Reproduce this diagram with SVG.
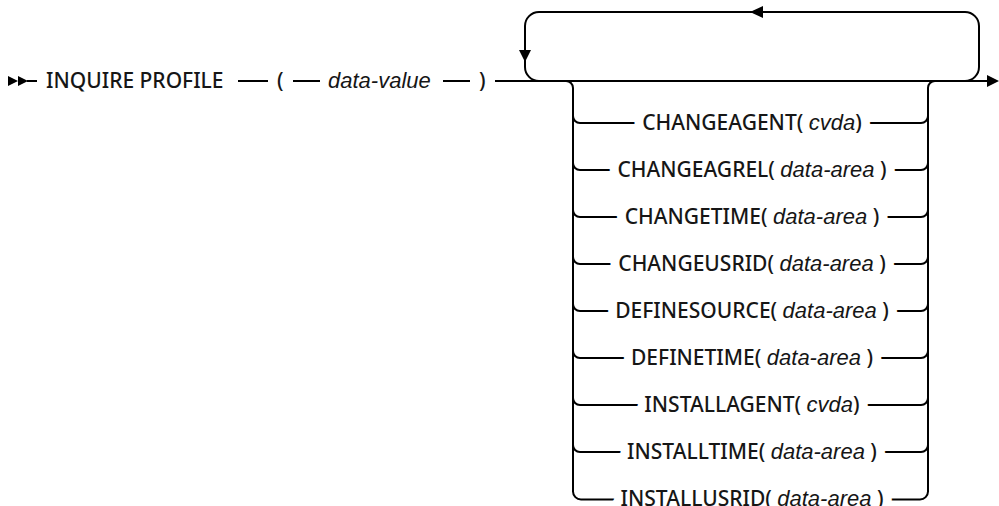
<svg xmlns="http://www.w3.org/2000/svg" width="999" height="506" viewBox="0 0 999 506">
<style>
.ln{fill:none;stroke:#000;stroke-width:2}
.kw{font-family:"Noto Sans","Liberation Sans",Arial,sans-serif;font-weight:500;font-size:21px;fill:#161616}
.var{font-family:"Liberation Sans",Arial,sans-serif;font-weight:400;font-size:22px;font-style:italic}
.halo{fill:#fff;stroke:#fff;stroke-width:18px;stroke-linejoin:round}
.ah{fill:#000}
</style>
<rect width="999" height="506" fill="#fff"/>
<g id="connectors">
  <polygon class="ah" points="8,76 18,81 8,86"/>
  <polygon class="ah" points="18,76 28,81 18,86"/>
  <line class="ln" x1="27" y1="81" x2="37" y2="81"/>
  <line class="ln" x1="238" y1="81" x2="268" y2="81"/>
  <line class="ln" x1="293" y1="81" x2="320" y2="81"/>
  <line class="ln" x1="443" y1="81" x2="470" y2="81"/>
  <line class="ln" x1="495" y1="81" x2="989" y2="81"/>
  <polygon class="ah" points="987,75 999,81 987,87"/>
  <path class="ln" d="M539 81 A14 14 0 0 1 525 67 L525 26 A14 14 0 0 1 539 12 L965 12 A14 14 0 0 1 979 26 L979 67 A14 14 0 0 1 965 81"/>
  <polygon class="ah" points="750,12 763,6 763,18"/>
  <polygon class="ah" points="519,50 531,50 525,62"/>
  <path class="ln" d="M566 81 A7 7 0 0 1 573 88 L573 491.5 A8 8 0 0 0 581 499.5 L920 499.5 A8 8 0 0 0 928 491.5 L928 88 A7 7 0 0 1 935 81"/>
  <path class="ln" d="M573 116 A7 7 0 0 0 580 123 L921 123 A7 7 0 0 0 928 116"/>
  <path class="ln" d="M573 163 A7 7 0 0 0 580 170 L921 170 A7 7 0 0 0 928 163"/>
  <path class="ln" d="M573 210 A7 7 0 0 0 580 217 L921 217 A7 7 0 0 0 928 210"/>
  <path class="ln" d="M573 257 A7 7 0 0 0 580 264 L921 264 A7 7 0 0 0 928 257"/>
  <path class="ln" d="M573 304 A7 7 0 0 0 580 311 L921 311 A7 7 0 0 0 928 304"/>
  <path class="ln" d="M573 351 A7 7 0 0 0 580 358 L921 358 A7 7 0 0 0 928 351"/>
  <path class="ln" d="M573 398 A7 7 0 0 0 580 405 L921 405 A7 7 0 0 0 928 398"/>
  <path class="ln" d="M573 445 A7 7 0 0 0 580 452 L921 452 A7 7 0 0 0 928 445"/>
</g>
<g id="n-command"><text class="kw" x="46" y="88">INQUIRE PROFILE</text></g>
<g id="n-lparen"><text class="kw" x="277" y="88">(</text></g>
<g id="n-datavalue"><text class="kw var" x="328" y="88">data-value</text></g>
<g id="n-rparen"><text class="kw" x="479" y="88">)</text></g>
<g id="n-changeagent">
  <text class="kw halo" x="752" y="130" text-anchor="middle">CHANGEAGENT( <tspan class="var">cvda</tspan>)</text>
  <text class="kw" x="752" y="130" text-anchor="middle">CHANGEAGENT( <tspan class="var">cvda</tspan>)</text>
</g>
<g id="n-changeagrel">
  <text class="kw halo" x="752" y="177" text-anchor="middle">CHANGEAGREL( <tspan class="var">data-area</tspan> )</text>
  <text class="kw" x="752" y="177" text-anchor="middle">CHANGEAGREL( <tspan class="var">data-area</tspan> )</text>
</g>
<g id="n-changetime">
  <text class="kw halo" x="752" y="224" text-anchor="middle">CHANGETIME( <tspan class="var">data-area</tspan> )</text>
  <text class="kw" x="752" y="224" text-anchor="middle">CHANGETIME( <tspan class="var">data-area</tspan> )</text>
</g>
<g id="n-changeusrid">
  <text class="kw halo" x="752" y="271" text-anchor="middle">CHANGEUSRID( <tspan class="var">data-area</tspan> )</text>
  <text class="kw" x="752" y="271" text-anchor="middle">CHANGEUSRID( <tspan class="var">data-area</tspan> )</text>
</g>
<g id="n-definesource">
  <text class="kw halo" x="752" y="318" text-anchor="middle">DEFINESOURCE( <tspan class="var">data-area</tspan> )</text>
  <text class="kw" x="752" y="318" text-anchor="middle">DEFINESOURCE( <tspan class="var">data-area</tspan> )</text>
</g>
<g id="n-definetime">
  <text class="kw halo" x="752" y="365" text-anchor="middle">DEFINETIME( <tspan class="var">data-area</tspan> )</text>
  <text class="kw" x="752" y="365" text-anchor="middle">DEFINETIME( <tspan class="var">data-area</tspan> )</text>
</g>
<g id="n-installagent">
  <text class="kw halo" x="752" y="412" text-anchor="middle">INSTALLAGENT( <tspan class="var">cvda</tspan>)</text>
  <text class="kw" x="752" y="412" text-anchor="middle">INSTALLAGENT( <tspan class="var">cvda</tspan>)</text>
</g>
<g id="n-installtime">
  <text class="kw halo" x="752" y="459" text-anchor="middle">INSTALLTIME( <tspan class="var">data-area</tspan> )</text>
  <text class="kw" x="752" y="459" text-anchor="middle">INSTALLTIME( <tspan class="var">data-area</tspan> )</text>
</g>
<g id="n-installusrid">
  <text class="kw halo" x="752" y="505.5" text-anchor="middle">INSTALLUSRID( <tspan class="var">data-area</tspan> )</text>
  <text class="kw" x="752" y="505.5" text-anchor="middle">INSTALLUSRID( <tspan class="var">data-area</tspan> )</text>
</g>
</svg>
